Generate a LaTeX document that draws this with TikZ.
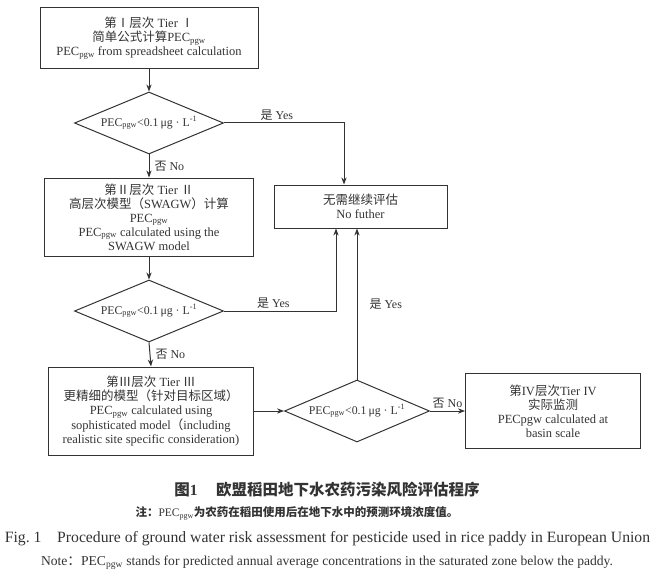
\documentclass[tikz,border=0pt]{standalone}
\usepackage{fontspec}
\setmainfont{Liberation Serif}
\newfontfamily\cjk{Noto Sans CJK SC}
\usetikzlibrary{positioning, arrows.meta, shapes.geometric}
\definecolor{ink}{HTML}{333333}
\newcommand{\pecpgw}{PEC\textsubscript{pgw}}
\newcommand{\zh}[1]{{\cjk #1}}
\newcommand{\limit}{\pecpgw{}<0.1\,μg · L\textsuperscript{-1}}

\begin{document}
\begin{tikzpicture}[
    x=1pt, y=-1pt,
    tier/.style={rectangle, draw=ink, line width=1pt, text=ink, align=center, font=\fontsize{12.5}{14}\selectfont, inner sep=2pt},
    test/.style={diamond, draw=ink, line width=1pt, text=ink, aspect=2.4, minimum width=149pt, minimum height=62pt, inner sep=0pt, font=\fontsize{11.8}{13}\selectfont},
    lbl/.style={text=ink, font=\fontsize{12}{13}\selectfont, inner sep=2pt},
    captext/.style={text=ink, inner sep=0pt},
    arr/.style={draw=ink, line width=1pt, -{Stealth[length=7pt]}},
]
\useasboundingbox (0,0) rectangle (655,580);

% left column
\node[tier, minimum width=218pt, minimum height=61pt] (t1) at (149,38)
    {\zh{第Ⅰ层次} Tier \zh{Ⅰ}\\ \zh{简单公式计算}\pecpgw\\ \pecpgw{} from spreadsheet calculation};
\node[test] (d1) at (149,123) {\limit};
\node[tier, minimum width=209pt, minimum height=78pt] (t2) at (149,217)
    {\zh{第Ⅱ层次} Tier \zh{Ⅱ}\\ \zh{高层次模型（}SWAGW\zh{）计算}\\ \pecpgw\\ \pecpgw{} calculated using the\\ SWAGW model};
\node[test] (d2) at (149,311) {\limit};
\node[tier, minimum width=205pt, minimum height=88pt] (t3) at (151,411)
    {\zh{第Ⅲ层次} Tier \zh{Ⅲ}\\ \zh{更精细的模型（针对目标区域）}\\ \pecpgw{} calculated using\\ sophisticated model\zh{（}including\\ realistic site specific consideration)};

% right part
\node[tier, minimum width=173pt, minimum height=43pt] (nf) at (360.5,206.5)
    {\zh{无需继续评估}\\ No futher};
\node[test, minimum width=145pt] (d3) at (357,411) {\limit};
\node[tier, minimum width=175pt, minimum height=75pt, right=35pt of d3] (t4)
    {\zh{第}IV\zh{层次}Tier IV\\ \zh{实际监测}\\ PECpgw calculated at\\ basin scale};

% connectors
\draw[arr] (t1.south) -- (d1.north);
\draw[arr] (d1.east) -| ([xshift=-16.5pt]nf.north) node[lbl, pos=0.22, above] {\zh{是} Yes};
\draw[arr] (d1.south) -- (t2.north) node[lbl, midway, right=3pt] {\zh{否} No};
\draw[arr] (t2.south) -- (d2.north);
\draw[arr] (d2.east) -| ([xshift=-24.5pt]nf.south) node[lbl, pos=0.22, above] {\zh{是} Yes};
\draw[arr] (d2.south) -- (t3.north) node[lbl, midway, right=3pt] {\zh{否} No};
\draw[arr] (t3.east) -- (d3.west);
\draw[arr] (d3.north) -- (d3.north |- nf.south) node[lbl, pos=0.5, right=10pt] {\zh{是} Yes};
\draw[arr] (d3.east) -- (t4.west) node[lbl, midway, above] {\zh{否} No};

% caption
\node[captext, font=\cjk\bfseries\fontsize{15.5}{17}\selectfont] (c1) at (327,490)
    {图{\rmfamily\bfseries 1}\hspace{1.2em}欧盟稻田地下水农药污染风险评估程序};
\node[captext, font=\cjk\bfseries\fontsize{11.5}{13}\selectfont] (c2) at (297,513)
    {注：{\rmfamily\mdseries\pecpgw}为农药在稻田使用后在地下水中的预测环境浓度值。};
\node[captext, font=\fontsize{15.7}{17}\selectfont] (c3) at (327.5,539)
    {Fig.~1\hspace{1em}Procedure of ground water risk assessment for pesticide used in rice paddy in European Union};
\node[captext, font=\fontsize{13.6}{15}\selectfont] (c4) at (327,563)
    {Note\zh{：}\pecpgw{} stands for predicted annual average concentrations in the saturated zone below the paddy.};
\end{tikzpicture}
\end{document}
